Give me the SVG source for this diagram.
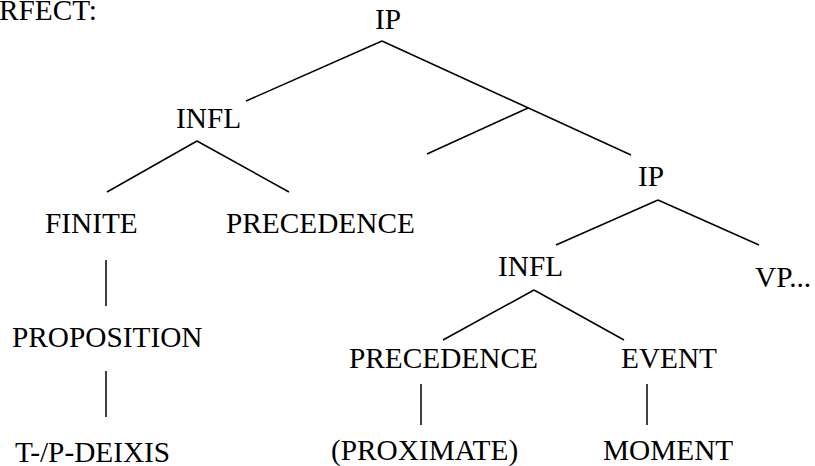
<svg xmlns="http://www.w3.org/2000/svg" width="815" height="466" viewBox="0 0 815 466">
<style>
text{font-family:"Liberation Serif","Times New Roman",serif;font-size:29.3px;fill:#000}
line{stroke:#000;stroke-width:1.5}
</style>
<rect width="815" height="466" fill="#fff"/>
<g id="connectors">
<line x1="382" y1="41" x2="246" y2="101"/>
<line x1="382" y1="41" x2="631" y2="155"/>
<line x1="528" y1="108" x2="427" y2="154"/>
<line x1="197" y1="141" x2="107" y2="192"/>
<line x1="197" y1="141" x2="289" y2="192"/>
<line x1="658" y1="200" x2="556" y2="245"/>
<line x1="658" y1="200" x2="759" y2="245"/>
<line x1="106" y1="260" x2="106" y2="306"/>
<line x1="106" y1="371" x2="106" y2="417"/>
<line x1="534" y1="290" x2="443" y2="340"/>
<line x1="534" y1="290" x2="624" y2="340"/>
<line x1="421" y1="384" x2="421" y2="425"/>
<line x1="647" y1="384" x2="647" y2="425"/>
</g>
<g id="label-rfect"><text x="-1" y="20">RFECT:</text></g>
<g id="ip-top"><text x="375" y="29">IP</text></g>
<g id="infl-1"><text x="176" y="128">INFL</text></g>
<g id="finite"><text x="45" y="233">FINITE</text></g>
<g id="precedence-1"><text x="226" y="233">PRECEDENCE</text></g>
<g id="proposition"><text x="12" y="347">PROPOSITION</text></g>
<g id="deixis"><text x="15" y="462">T-/P-DEIXIS</text></g>
<g id="ip-2"><text x="638" y="186">IP</text></g>
<g id="infl-2"><text x="498" y="276">INFL</text></g>
<g id="vp"><text x="755" y="287">VP...</text></g>
<g id="precedence-2"><text x="349" y="368">PRECEDENCE</text></g>
<g id="event"><text x="621" y="368">EVENT</text></g>
<g id="proximate"><text x="331" y="460">(PROXIMATE)</text></g>
<g id="moment"><text x="603" y="460">MOMENT</text></g>
</svg>
